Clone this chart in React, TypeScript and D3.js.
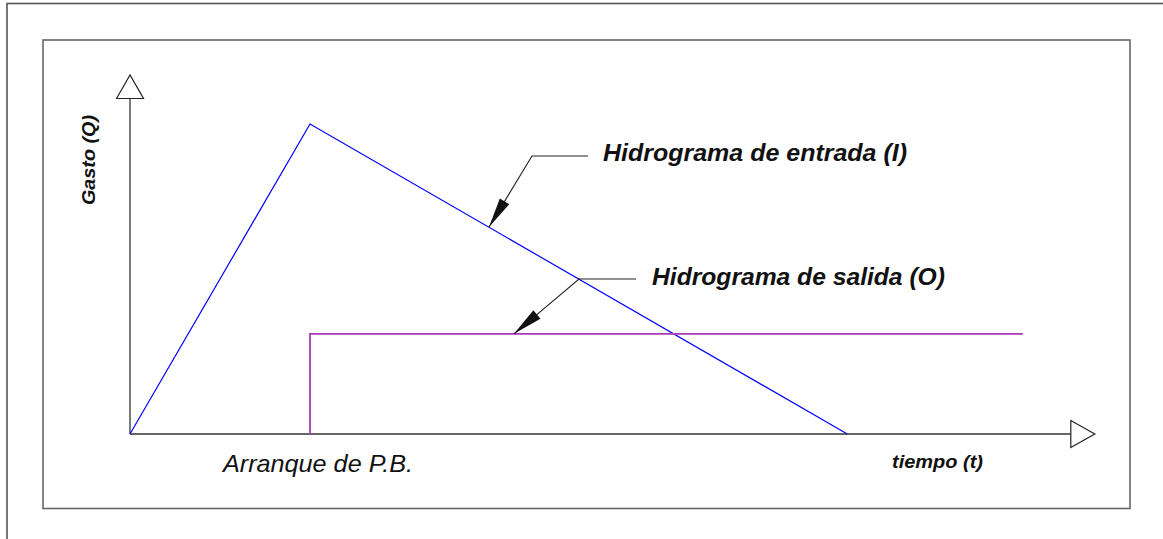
import React, { useEffect, useRef } from "react";
import * as d3 from "d3";

// hydrograph vertices (t, Q) in chart units
const inflowT = [0, 2.0, 7.97];
const inflowQ = [0, 10, 0];
const outflowT = [2.0, 2.0, 9.92];
const outflowQ = [0, 3.23, 3.23];
const axisEndT = 10.72;
const axisEndQ = 11.58;

const labelIn = "Hidrograma de entrada (I)";
const labelOut = "Hidrograma de salida (O)";
const labelStart = "Arranque de P.B.";
const labelX = "tiempo (t)";
const labelY = "Gasto (Q)";

function Hydrograph() {
  const ref = useRef<SVGSVGElement>(null);

  useEffect(() => {
    const svg = d3.select(ref.current);
    svg.selectAll("*").remove();

    const x = d3.scaleLinear().domain([0, 10]).range([130, 1030]);
    const y = d3.scaleLinear().domain([0, 10]).range([434, 124]);
    const font = "Liberation Sans, Arial, sans-serif";

    // frames
    svg.append("rect").attr("x", 7).attr("y", 3.5).attr("width", 1200).attr("height", 600)
      .attr("fill", "none").attr("stroke", "#555").attr("stroke-width", 1.6);
    svg.append("rect").attr("x", 43).attr("y", 40).attr("width", 1087).attr("height", 468.5)
      .attr("fill", "none").attr("stroke", "#666").attr("stroke-width", 1.6);

    // axes
    const ox = x(0), oy = y(0);
    svg.append("line").attr("x1", ox).attr("y1", oy).attr("x2", x(axisEndT) - 24).attr("y2", oy)
      .attr("stroke", "#333").attr("stroke-width", 1.3);
    svg.append("line").attr("x1", ox).attr("y1", oy).attr("x2", ox).attr("y2", y(axisEndQ))
      .attr("stroke", "#333").attr("stroke-width", 1.3);
    const xt = x(axisEndT), yt = y(axisEndQ);
    svg.append("path")
      .attr("d", `M${xt - 24},${oy - 13.5}L${xt},${oy}L${xt - 24},${oy + 13.5}Z`)
      .attr("fill", "white").attr("stroke", "#222").attr("stroke-width", 1.2);
    svg.append("path")
      .attr("d", `M${ox - 13.5},${yt + 23.5}L${ox},${yt}L${ox + 13.5},${yt + 23.5}Z`)
      .attr("fill", "white").attr("stroke", "#222").attr("stroke-width", 1.2);

    const line = d3.line<[number, number]>().x(d => x(d[0])).y(d => y(d[1]));
    svg.append("path")
      .attr("d", line(inflowT.map((t, i) => [t, inflowQ[i]] as [number, number])))
      .attr("fill", "none").attr("stroke", "#0000ff").attr("stroke-width", 1.2);
    svg.append("path")
      .attr("d", line(outflowT.map((t, i) => [t, outflowQ[i]] as [number, number])))
      .attr("fill", "none").attr("stroke", "#a83ab8").attr("stroke-width", 1.8);

    // leaders with filled arrowheads
    const leader = (hx1: number, hx2: number, hy: number, tx: number, ty: number) => {
      svg.append("path").attr("d", `M${hx1},${hy}L${hx2},${hy}L${tx},${ty}`)
        .attr("fill", "none").attr("stroke", "#222").attr("stroke-width", 1.1);
      const dx = hx2 - tx, dy = hy - ty, len = Math.hypot(dx, dy);
      const ux = dx / len, uy = dy / len, L = 30, W = 5.5;
      const bx = tx + ux * L, by = ty + uy * L;
      svg.append("path")
        .attr("d", `M${tx},${ty}L${bx - uy * W},${by + ux * W}L${bx + uy * W},${by - ux * W}Z`)
        .attr("fill", "#111");
    };
    leader(588, 532, 156, 489, 227);
    leader(636, 579, 279, 514, y(outflowQ[1]));

    const text = (s: string, tx: number, ty: number, size: number, bold: boolean, w: number) =>
      svg.append("text").attr("x", tx).attr("y", ty).text(s)
        .attr("font-family", font).attr("font-size", size).attr("font-style", "italic")
        .attr("font-weight", bold ? "bold" : "normal").attr("fill", "#111")
        .attr("textLength", w).attr("lengthAdjust", "spacingAndGlyphs");

    text(labelIn, 603, 161, 23, true, 304);
    text(labelOut, 652, 285, 23, true, 293);
    text(labelStart, 223, 472, 24, false, 190);
    text(labelX, 892, 468, 18, true, 91);
    text(labelY, 0, 0, 18, true, 90)
      .attr("transform", "translate(95,205) rotate(-90)");
  }, []);

  return (
    <svg ref={ref} width={1163} height={539}
      style={{ position: "absolute", left: 0, top: 0, background: "white" }} />
  );
}

export default function App() {
  return <Hydrograph />;
}
